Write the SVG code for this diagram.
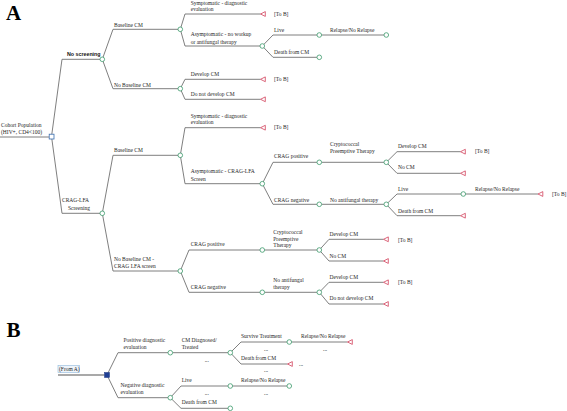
<svg xmlns="http://www.w3.org/2000/svg" width="567" height="411" viewBox="0 0 567 411">
<style>
.l{fill:none;stroke:#707070;stroke-width:0.9}
.c{fill:#fff;stroke:#3c9a6c;stroke-width:0.8}
.t{fill:#fff;stroke:#d2405a;stroke-width:0.8}
text{font-family:"Liberation Serif","Times New Roman",serif;font-size:5.5px;fill:#262626}
.b{font-family:"Liberation Sans",Arial,sans-serif;font-weight:bold;font-size:5.3px;fill:#111}
.big{font-family:"Liberation Serif","Times New Roman",serif;font-weight:bold;font-size:21px;fill:#000}
</style>
<defs>
<circle id="ch" r="2.3" class="c"/>
<path id="tr" d="M0 0 L4.8 -2.4 L4.8 2.4 Z" class="t"/>
</defs>
<rect width="567" height="411" fill="#fff"/>
<text class="big" x="6" y="19.5">A</text>
<text class="big" x="6.5" y="336.5">B</text>

<g id="connectors">
<!-- A -->
<path class="l" d="M0 137H49.2"/>
<path class="l" d="M51.5 136.5L62 59.3H100"/>
<path class="l" d="M51.5 136.5L62 213.3H100"/>
<path class="l" d="M102.3 59.3L113 29.3H178"/>
<path class="l" d="M102.3 59.3L113 88.7H178"/>
<path class="l" d="M180.3 29.3L185 14H260.5"/>
<path class="l" d="M180.3 29.3L185 46H260"/>
<path class="l" d="M262.3 46L273 35H317"/>
<path class="l" d="M321.6 35H384"/>
<path class="l" d="M262.3 46L273 57.3H317"/>
<path class="l" d="M180.3 88.7L185 79.3H260.5"/>
<path class="l" d="M180.3 88.7L185 99.3H260.5"/>
<path class="l" d="M102.3 213.3L113 155.3H178"/>
<path class="l" d="M102.3 213.3L113 271H178"/>
<path class="l" d="M180.3 155.3L185 127.7H260.5"/>
<path class="l" d="M180.3 155.3L185 183.7H260"/>
<path class="l" d="M262.3 183.7L273 162.3H317"/>
<path class="l" d="M321.6 162.3H384"/>
<path class="l" d="M262.3 183.7L273 204.3H317"/>
<path class="l" d="M321.6 204.3H384"/>
<path class="l" d="M386.3 162.3L397 151.7H460.5"/>
<path class="l" d="M386.3 162.3L397 173.3H460.5"/>
<path class="l" d="M386.3 204.3L397 194H461"/>
<path class="l" d="M465.6 194H538"/>
<path class="l" d="M386.3 204.3L397 215.7H460.5"/>
<path class="l" d="M180.3 271L189 250H260"/>
<path class="l" d="M180.3 271L189 292.3H260"/>
<path class="l" d="M264.6 250H317"/>
<path class="l" d="M319.3 250L329 239.3H383.5"/>
<path class="l" d="M319.3 250L329 261H383.5"/>
<path class="l" d="M264.6 292.3H317"/>
<path class="l" d="M319.3 292.3L329 282.3H383.5"/>
<path class="l" d="M319.3 292.3L329 304H383.5"/>
<!-- B -->
<path class="l" d="M58 375H104.5" style="stroke:#555;stroke-width:1.2"/>
<path class="l" d="M107 375L118 352.7H168"/>
<path class="l" d="M107 375L118 397.7H168"/>
<path class="l" d="M172.6 352.7H228"/>
<path class="l" d="M230.3 352.7L241 342H287"/>
<path class="l" d="M291.6 342H347.5"/>
<path class="l" d="M230.3 352.7L241 364H287.5"/>
<path class="l" d="M170.3 397.7L181 386H228"/>
<path class="l" d="M232.6 386H287"/>
<path class="l" d="M170.3 397.7L181 408.3H228"/>
</g>

<g id="root">
<text x="1" y="127">Cohort Population</text>
<text x="1" y="134">(HIV+, CD4&lt;100)</text>
<rect x="49.2" y="134.2" width="4.8" height="4.8" fill="#fff" stroke="#3a6fb0" stroke-width="0.8"/>
</g>
<g id="n-no-screening">
<text class="b" x="67" y="56">No screening</text>
<use href="#ch" x="102.3" y="59.3"/>
</g>
<g id="n-crag-screening">
<text x="62" y="201.5">CRAG-LFA</text>
<text x="68" y="210">Screening</text>
<use href="#ch" x="102.3" y="213.3"/>
</g>
<g id="n-baseline-cm-1">
<text x="114" y="27">Baseline CM</text>
<use href="#ch" x="180.3" y="29.3"/>
</g>
<g id="n-no-baseline-cm-1">
<text x="114" y="86.5">No Baseline CM</text>
<use href="#ch" x="180.3" y="88.7"/>
</g>
<g id="n-symptomatic-1">
<text x="190.7" y="4.5">Symptomatic - diagnostic</text>
<text x="190.7" y="11">evaluation</text>
<use href="#tr" x="260.5" y="14"/>
<text x="274" y="15.5">[To B]</text>
</g>
<g id="n-asymptomatic-1">
<text x="190.7" y="36.2">Asymptomatic - no workup</text>
<text x="190.7" y="43.5">or antifungal therapy</text>
<use href="#ch" x="262.3" y="46"/>
</g>
<g id="n-live-1">
<text x="274" y="32">Live</text>
<use href="#ch" x="319.3" y="35"/>
</g>
<g id="n-relapse-1">
<text x="330" y="32">Relapse/No Relapse</text>
<use href="#ch" x="386.3" y="35"/>
</g>
<g id="n-death-1">
<text x="274" y="54">Death from CM</text>
<use href="#ch" x="319.3" y="57.3"/>
</g>
<g id="n-develop-1">
<text x="190.7" y="76">Develop CM</text>
<use href="#tr" x="260.5" y="79.3"/>
<text x="274" y="80.8">[To B]</text>
</g>
<g id="n-not-develop-1">
<text x="190.7" y="96">Do not develop CM</text>
<use href="#tr" x="260.5" y="99.3"/>
</g>
<g id="n-baseline-cm-2">
<text x="114" y="151.8">Baseline CM</text>
<use href="#ch" x="180.3" y="155.3"/>
</g>
<g id="n-no-baseline-cm-2">
<text x="114" y="260.8">No Baseline CM -</text>
<text x="114" y="268">CRAG LFA screen</text>
<use href="#ch" x="180.3" y="271"/>
</g>
<g id="n-symptomatic-2">
<text x="190.7" y="117.5">Symptomatic - diagnostic</text>
<text x="190.7" y="124">evaluation</text>
<use href="#tr" x="260.5" y="127.7"/>
<text x="274" y="129.2">[To B]</text>
</g>
<g id="n-asymptomatic-2">
<text x="190.7" y="173.2">Asymptomatic - CRAG-LFA</text>
<text x="190.7" y="180.5">Screen</text>
<use href="#ch" x="262.3" y="183.7"/>
</g>
<g id="n-crag-pos-1">
<text x="274" y="158.3">CRAG positive</text>
<use href="#ch" x="319.3" y="162.3"/>
</g>
<g id="n-crypto-1">
<text x="330" y="145.8">Cryptococcal</text>
<text x="330" y="152.5">Preemptive Therapy</text>
<use href="#ch" x="386.3" y="162.3"/>
</g>
<g id="n-crag-neg-1">
<text x="274" y="201.5">CRAG negative</text>
<use href="#ch" x="319.3" y="204.3"/>
</g>
<g id="n-no-af-1">
<text x="330" y="201.5">No antifungal therapy</text>
<use href="#ch" x="386.3" y="204.3"/>
</g>
<g id="n-develop-2">
<text x="398" y="148.3">Develop CM</text>
<use href="#tr" x="460.5" y="151.7"/>
<text x="475" y="153.3">[To B]</text>
</g>
<g id="n-no-cm-1">
<text x="398" y="169.3">No CM</text>
<use href="#tr" x="460.5" y="173.3"/>
</g>
<g id="n-live-2">
<text x="398" y="190.8">Live</text>
<use href="#ch" x="463.3" y="194"/>
</g>
<g id="n-relapse-2">
<text x="475" y="190.5">Relapse/No Relapse</text>
<use href="#tr" x="538" y="194"/>
<text x="552" y="195.5">[To B]</text>
</g>
<g id="n-death-2">
<text x="398" y="212.5">Death from CM</text>
<use href="#tr" x="460.5" y="215.7"/>
</g>
<g id="n-crag-pos-2">
<text x="190.7" y="246">CRAG positive</text>
<use href="#ch" x="262.3" y="250"/>
</g>
<g id="n-crypto-2">
<text x="273.3" y="233.8">Cryptococcal</text>
<text x="273.3" y="240.5">Preemptive</text>
<text x="273.3" y="247">Therapy</text>
<use href="#ch" x="319.3" y="250"/>
</g>
<g id="n-develop-3">
<text x="329.5" y="236">Develop CM</text>
<use href="#tr" x="383.5" y="239.3"/>
<text x="398" y="241.5">[To B]</text>
</g>
<g id="n-no-cm-2">
<text x="329.5" y="257.5">No CM</text>
<use href="#tr" x="383.5" y="261"/>
</g>
<g id="n-crag-neg-2">
<text x="190.7" y="289.2">CRAG negative</text>
<use href="#ch" x="262.3" y="292.3"/>
</g>
<g id="n-no-af-2">
<text x="273.3" y="282.2">No antifungal</text>
<text x="273.3" y="289.2">therapy</text>
<use href="#ch" x="319.3" y="292.3"/>
</g>
<g id="n-develop-4">
<text x="329.5" y="279">Develop CM</text>
<use href="#tr" x="383.5" y="282.3"/>
<text x="398" y="284">[To B]</text>
</g>
<g id="n-not-develop-2">
<text x="329.5" y="300.2">Do not develop CM</text>
<use href="#tr" x="383.5" y="304"/>
</g>

<!-- B -->
<g id="n-from-a">
<rect x="58" y="365.5" width="21.5" height="7" fill="#eef4fa" stroke="#8fb8dc" stroke-width="0.6"/>
<text x="59" y="371.2">(From A)</text>
<rect x="104.5" y="372.5" width="5" height="5" fill="#1f3f94" stroke="#1a3580" stroke-width="0.5"/>
</g>
<g id="n-positive">
<text x="123.5" y="341.8">Positive diagnostic</text>
<text x="123.5" y="348.8">evaluation</text>
<use href="#ch" x="170.3" y="352.7"/>
</g>
<g id="n-negative">
<text x="120.5" y="387">Negative diagnostic</text>
<text x="120.5" y="393.7">evaluation</text>
<use href="#ch" x="170.3" y="397.7"/>
</g>
<g id="n-cm-diagnosed">
<text x="181.7" y="342.4">CM Diagnosed/</text>
<text x="181.7" y="349">Treated</text>
<text x="204.7" y="361.5">...</text>
<use href="#ch" x="230.3" y="352.7"/>
</g>
<g id="n-survive">
<text x="241" y="337.8">Survive Treatment</text>
<text x="264" y="350.5">...</text>
<use href="#ch" x="289.3" y="342"/>
</g>
<g id="n-relapse-b1">
<text x="301" y="337.8">Relapse/No Relapse</text>
<text x="323" y="350.5">...</text>
<use href="#tr" x="347.5" y="342"/>
</g>
<g id="n-death-b1">
<text x="241" y="360">Death from CM</text>
<use href="#tr" x="287.5" y="364"/>
<text x="299" y="366">...</text>
<text x="264" y="372">...</text>
</g>
<g id="n-live-b">
<text x="181.7" y="382.2">Live</text>
<text x="204.7" y="394.5">...</text>
<use href="#ch" x="230.3" y="386"/>
</g>
<g id="n-relapse-b2">
<text x="241" y="381.8">Relapse/No Relapse</text>
<text x="264" y="394.5">...</text>
<use href="#ch" x="289.3" y="386"/>
</g>
<g id="n-death-b2">
<text x="181.7" y="403.5">Death from CM</text>
<use href="#ch" x="230.3" y="408.3"/>
</g>
</svg>
